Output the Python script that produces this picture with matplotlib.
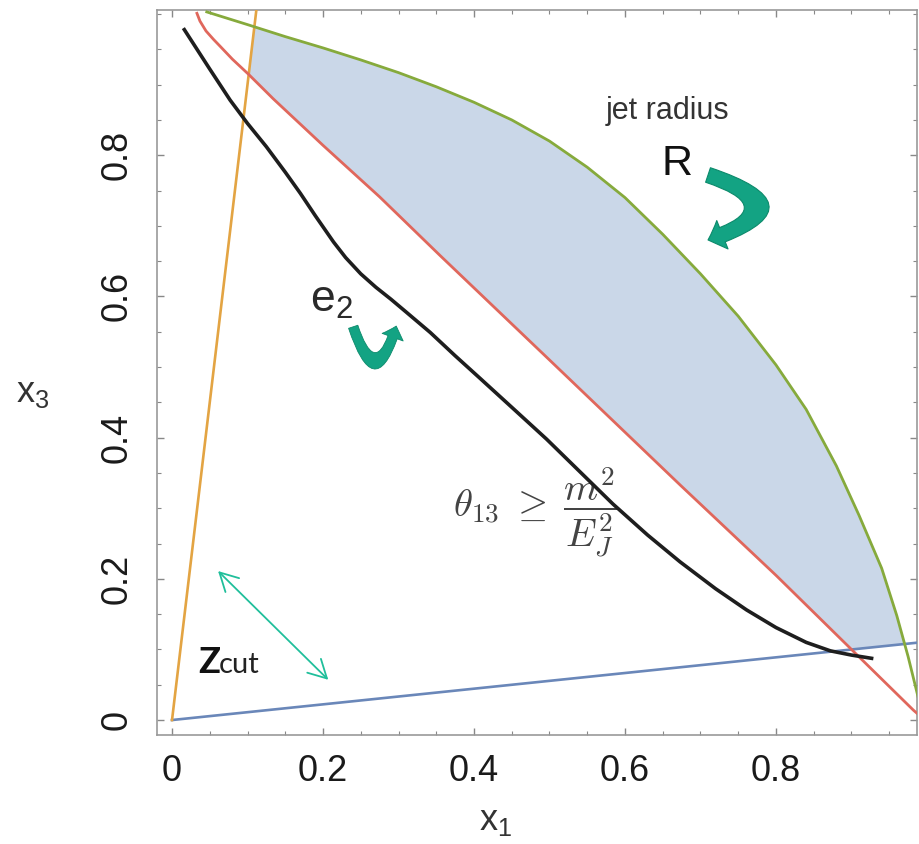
import matplotlib
matplotlib.use("Agg")
import matplotlib.pyplot as plt
from matplotlib.patches import FancyArrowPatch, Polygon, ArrowStyle
from matplotlib.ticker import MultipleLocator

# z_cut boundaries, straight lines through the origin
zcut_low_x = [0.0, 1.0]
zcut_low_y = [0.0, 0.111]
zcut_high_x = [0.0, 0.1133]
zcut_high_y = [0.0, 1.02]

# mass condition boundary (red)
mass_x = [0.033, 0.037, 0.045, 0.055, 0.064, 0.08, 0.101, 0.134, 0.2, 0.275, 0.355,
          0.5, 0.673, 0.8, 0.9, 0.982, 0.995]
mass_y = [1.001, 0.99, 0.976, 0.964, 0.954, 0.936, 0.915, 0.88, 0.814, 0.741, 0.658,
          0.51, 0.333, 0.205, 0.1, 0.014, 0.002]

# jet radius boundary (green)
radius_x = [0.046, 0.10, 0.15, 0.20, 0.25, 0.30, 0.35, 0.40, 0.45, 0.50, 0.55, 0.60,
            0.65, 0.70, 0.75, 0.80, 0.84, 0.88, 0.91, 0.94, 0.96, 0.975, 0.99, 1.0]
radius_y = [1.003, 0.985, 0.968, 0.952, 0.935, 0.917, 0.897, 0.875, 0.85, 0.82, 0.783,
            0.74, 0.688, 0.632, 0.572, 0.503, 0.44, 0.36, 0.29, 0.215, 0.148, 0.09,
            0.025, -0.01]

# e2 contour (black)
e2_x = [0.015, 0.05, 0.077, 0.10, 0.125, 0.15, 0.17, 0.19, 0.214, 0.23, 0.25, 0.27,
        0.29, 0.31, 0.342, 0.375, 0.408, 0.45, 0.496, 0.54, 0.584, 0.63, 0.673, 0.72,
        0.761, 0.80, 0.84, 0.872, 0.90, 0.929]
e2_y = [0.98, 0.922, 0.878, 0.845, 0.812, 0.776, 0.746, 0.714, 0.677, 0.655, 0.632,
        0.613, 0.596, 0.578, 0.549, 0.516, 0.484, 0.443, 0.398, 0.352, 0.306, 0.262,
        0.224, 0.186, 0.156, 0.131, 0.11, 0.098, 0.092, 0.087]

tick_values = [0, 0.2, 0.4, 0.6, 0.8]
tick_labels = ["0", "0.2", "0.4", "0.6", "0.8"]

TEAL = "#13a383"
SANS = ["Liberation Sans", "DejaVu Sans"]

fig = plt.figure(figsize=(9.2, 8.44), dpi=100)
ax = fig.add_axes([157 / 920, 109 / 844, 760 / 920, 725 / 844])

# allowed region: between red and green, inside the z_cut wedge
region = Polygon(list(zip(radius_x, radius_y)) + list(zip(mass_x[::-1], mass_y[::-1])),
                 closed=True, facecolor="#cad7e8", edgecolor="none", zorder=1)
ax.add_patch(region)
wedge = Polygon([(0, 0), (1.2, 1.2 * zcut_low_y[1] / zcut_low_x[1]), (1.2, 1.2),
                 (1.2 * zcut_high_x[1] / zcut_high_y[1], 1.2)],
                closed=True, transform=ax.transData)
region.set_clip_path(wedge)

ax.plot(zcut_low_x, zcut_low_y, color="#6a87b9", lw=1.9, zorder=3)
ax.plot(zcut_high_x, zcut_high_y, color="#e3a443", lw=1.9, zorder=3)
ax.plot(mass_x, mass_y, color="#e0675c", lw=2.0, zorder=3)
ax.plot(radius_x, radius_y, color="#86aa3c", lw=2.0, zorder=3)
ax.plot(e2_x, e2_y, color="#1e1e1e", lw=2.6, zorder=5, solid_capstyle="butt",
        solid_joinstyle="round")

ax.set_xlim(-0.0199, 0.9868)
ax.set_ylim(-0.0212, 1.0057)

# frame with inward ticks on every side
for side in ax.spines.values():
    side.set_color("#999999")
    side.set_linewidth(1.2)
ax.xaxis.set_major_locator(MultipleLocator(0.2))
ax.yaxis.set_major_locator(MultipleLocator(0.2))
ax.xaxis.set_minor_locator(MultipleLocator(0.05))
ax.yaxis.set_minor_locator(MultipleLocator(0.05))
ax.set_xticks(tick_values, tick_labels)
ax.set_yticks(tick_values, tick_labels)
ax.tick_params(which="both", direction="in", top=True, right=True, color="#888888")
ax.tick_params(which="major", length=5, width=1.0)
ax.tick_params(which="minor", length=3, width=0.8)
ax.tick_params(axis="x", labelsize=26, pad=14, labelcolor="#1a1a1a")
ax.tick_params(axis="y", labelsize=26, pad=16, labelcolor="#1a1a1a", labelrotation=90)
for lab in ax.get_xticklabels() + ax.get_yticklabels():
    lab.set_family(SANS)
for lab in ax.get_yticklabels():
    lab.set_va("center")

ax.set_xlabel(r"$\mathregular{x_1}$", fontsize=26, family=SANS, color="#333333")
ax.set_ylabel(r"$\mathregular{x_3}$", fontsize=26, family=SANS, color="#333333", rotation=0)
ax.xaxis.set_label_coords(0.445, -0.118)
ax.xaxis.label.set_va("center")
ax.yaxis.set_label_coords(-0.164, 0.472)
ax.yaxis.label.set_va("center")

# annotations
ax.text(0.656, 0.863, "jet radius", fontsize=22, family=SANS, color="#333333",
        ha="center", va="center", zorder=6)
ax.text(0.669, 0.788, "R", fontsize=31, family=SANS, color="#111111",
        ha="center", va="center", zorder=6)
ax.text(0.183, 0.578, r"$\mathregular{e_2}$", fontsize=32, family=SANS, color="#2a2a2a",
        ha="left", va="baseline", zorder=6)
ax.text(0.482, 0.293, r"$\theta_{13}\;\geq\;\dfrac{m^2}{E_J^2}$", fontsize=28,
        math_fontfamily="cm", color="#444444", ha="center", va="center", zorder=4)
ax.text(0.0344, 0.0666, "Z", fontsize=26, family=["Lato", "DejaVu Sans"], weight="bold",
        color="#111111", ha="left", va="baseline", zorder=6)
ax.text(0.0623, 0.0666, "cut", fontsize=21, family=["Lato", "DejaVu Sans"],
        color="#222222", ha="left", va="baseline", zorder=6)

big_arrow = ArrowStyle.Simple(head_length=1.0, head_width=2.0, tail_width=1.0)
ax.add_patch(FancyArrowPatch((0.710, 0.772), (0.710, 0.680), arrowstyle=big_arrow,
                             connectionstyle="arc3,rad=-1.5", mutation_scale=11,
                             facecolor=TEAL, edgecolor="#0c8a6b", lw=0.8,
                             shrinkA=0, shrinkB=0, zorder=6))
small_arrow = ArrowStyle.Simple(head_length=1.2, head_width=2.3, tail_width=1.0)
ax.add_patch(FancyArrowPatch((0.240, 0.557), (0.297, 0.558), arrowstyle=small_arrow,
                             connectionstyle="arc3,rad=1.6", mutation_scale=7,
                             facecolor=TEAL, edgecolor="#0c8a6b", lw=0.6,
                             shrinkA=0, shrinkB=0, zorder=6))
ax.add_patch(FancyArrowPatch((0.061, 0.211), (0.207, 0.057),
                             arrowstyle="<->,head_length=0.65,head_width=0.35",
                             mutation_scale=20, color="#20bf9b", lw=1.3,
                             shrinkA=0, shrinkB=0, zorder=6))

fig.savefig("out.png", dpi=100)
